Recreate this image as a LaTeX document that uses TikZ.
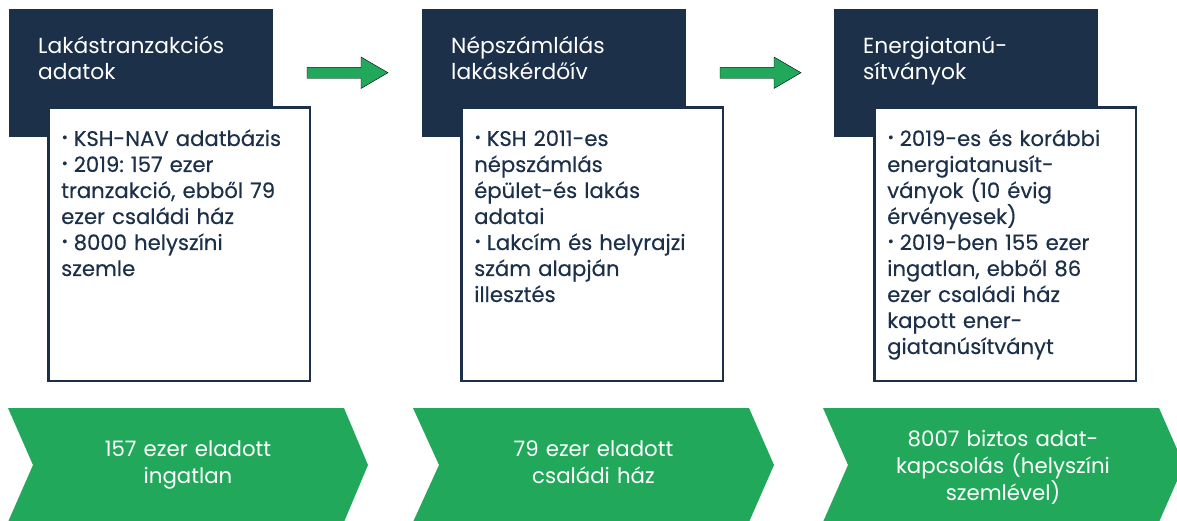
\documentclass[tikz,border=0pt]{standalone}
\usepackage{fontspec}
\setmainfont{Poppins}
\newfontfamily\medfont[FakeBold=0.35]{Poppins}
\definecolor{navy}{HTML}{1C3049}
\definecolor{grn}{HTML}{21A85A}
\hyphenpenalty=10000
\exhyphenpenalty=10000
\frenchspacing
\newcommand{\bul}{\hangindent=12.5pt\hangafter=1\noindent\makebox[12.5pt][l]{\hspace{0.5pt}\raisebox{3.6pt}{\fontsize{15}{15}\selectfont\textbullet}}}
\begin{document}
\begin{tikzpicture}[x=1pt,y=-1pt,
 head/.style={fill=navy, minimum width=264pt, minimum height=127.5pt, inner sep=0pt, anchor=north west},
 card/.style={draw=navy, line width=2.5pt, fill=white, minimum width=261.5pt, minimum height=273.5pt, inner sep=0pt, anchor=north west},
 htext/.style={text=white, anchor=base west, inner sep=0pt, text width=250pt, align=left, font=\fontsize{21.8}{26}\selectfont},
 btext/.style={text=navy, anchor=base west, inner sep=0pt, text width=255pt, align=left, font=\medfont\fontsize{21.2}{26}\selectfont},
 ctext/.style={text=white, anchor=base, inner sep=0pt, text width=320pt, align=center, font=\fontsize{21.3}{27}\selectfont},
 chev/.style={fill=grn},
 flow/.style={fill=grn}]
\useasboundingbox (0,0) rectangle (1177,521);
\clip (0,0) rectangle (1177,521);

% panels
\node[head] (h1) at (9,9) {};
\node[head] (h2) at (422,9) {};
\node[head] (h3) at (834,9) {};
\node[card] (c1) at (47.25,106.25) {};
\node[card] (c2) at (460.25,106.25) {};
\node[card] (c3) at (873.25,106.25) {};

\node[htext] (t1) at (38,54) {Lakástranzakciós\\adatok};
\node[htext] (t2) at (451,54) {Népszámlálás\\lakáskérdőív};
\node[htext] (t3) at (863,54) {Energiatanú-\\sítványok};

\node[btext] (b1) at (61,146) {\bul KSH-NAV adatbázis\par
\bul 2019: 157 ezer\\tranzakció, ebből 79\\ezer családi ház\par
\bul 8000 helyszíni\\szemle};
\node[btext] (b2) at (474,146) {\bul KSH 2011-es\\népszámlás\\épület-és lakás\\adatai\par
\bul Lakcím és helyrajzi\\szám alapján\\illesztés};
\node[btext] (b3) at (887,146) {\bul 2019-es és korábbi\\energiatanusít-\\ványok (10 évig\\érvényesek)\par
\bul 2019-ben 155 ezer\\ingatlan, ebből 86\\ezer családi ház\\kapott ener-\\giatanúsítványt};

% flow arrows
\draw[flow] (307,67.7) -- (361,67.7) -- (361,57) -- (388,72.7) -- (361,88.5) -- (361,78.3) -- (307,78.3) -- cycle;
\draw[flow] (720,67.7) -- (774,67.7) -- (774,57) -- (801,72.7) -- (774,88.5) -- (774,78.3) -- (720,78.3) -- cycle;

% chevrons
\fill[chev] (8,408) -- (344,408) -- (368,465) -- (344,522) -- (8,522) -- (33,465) -- cycle;
\fill[chev] (413,408) -- (749,408) -- (774,465) -- (749,522) -- (413,522) -- (439,465) -- cycle;
\fill[chev] (823,408) -- (1159,408) -- (1184,465) -- (1159,522) -- (823,522) -- (848,465) -- cycle;

\node[ctext] (g1) at (188,456) {157 ezer eladott\\ingatlan};
\node[ctext] (g2) at (593.5,456) {79 ezer eladott\\családi ház};
\node[ctext] (g3) at (1003,446) {8007 biztos adat-\\kapcsolás (helyszíni\\szemlével)};
\end{tikzpicture}
\end{document}
